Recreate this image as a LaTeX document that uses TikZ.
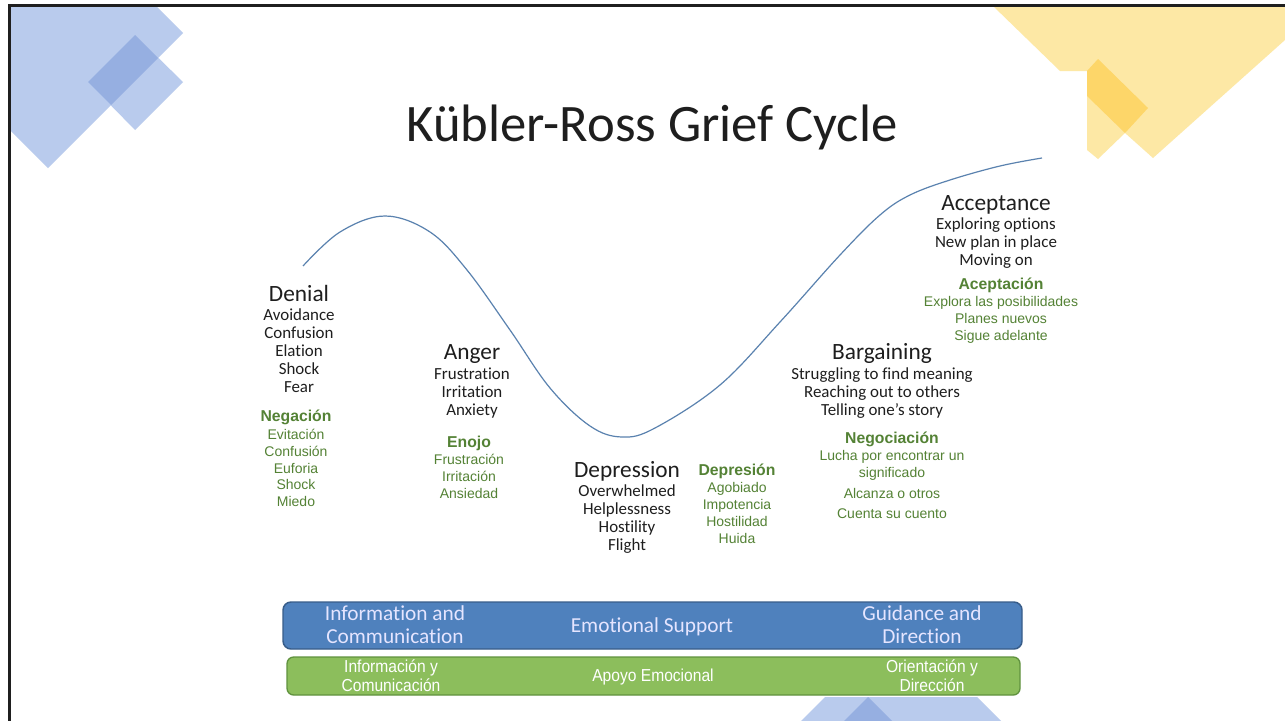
\documentclass[tikz,border=0pt]{standalone}
\usepackage{fontspec}
\setmainfont{Carlito}[Ligatures=NoCommon]
\newfontfamily\arialf{Liberation Sans}
\newfontfamily\arialn{Liberation Sans}[FakeStretch=0.9]
\definecolor{txt}{RGB}{30,30,30}
\definecolor{grn}{RGB}{84,130,53}
\definecolor{bluelt}{RGB}{185,203,237}
\definecolor{bluedk}{RGB}{150,175,225}
\definecolor{yellt}{RGB}{253,232,165}
\definecolor{yeldk}{RGB}{253,214,105}
\definecolor{barblue}{RGB}{79,129,189}
\definecolor{barblueedge}{RGB}{56,93,138}
\definecolor{bargreen}{RGB}{140,190,92}
\definecolor{bargreenedge}{RGB}{96,146,62}
\definecolor{curvec}{RGB}{90,130,175}
\begin{document}
\begin{tikzpicture}[x=0.75pt,y=-0.75pt,
  head/.style={anchor=base,inner sep=0pt,text=txt,font=\fontsize{17.5}{20}\selectfont},
  item/.style={anchor=base,inner sep=0pt,text=txt,font=\fontsize{12.7}{15}\selectfont},
  ghead/.style={anchor=base,inner sep=0pt,text=grn,font=\arialf\bfseries\fontsize{11.8}{14}\selectfont},
  gitem/.style={anchor=base,inner sep=0pt,text=grn,font=\arialf\fontsize{10.5}{12}\selectfont},
  bartext/.style={anchor=base,inner sep=0pt,text=white!90!blue,font=\fontsize{16}{19}\selectfont},
  gbartext/.style={anchor=base,inner sep=0pt,text=white,font=\arialn\fontsize{13}{15}\selectfont},
  bluebar/.style={draw=barblueedge,line width=1.1pt,fill=barblue,rounded corners=6pt,minimum width=554.25pt,minimum height=35.25pt,inner sep=0pt},
  greenbar/.style={draw=bargreenedge,line width=1pt,fill=bargreen,rounded corners=5pt,minimum width=549.75pt,minimum height=28.5pt,inner sep=0pt},
  curve/.style={draw=curvec,line width=0.9pt}
]
\useasboundingbox (0,0) rectangle (1285,721);
\fill[white] (0,0) rectangle (1285,721);
% decorations top-left
\fill[bluelt] (10,6) -- (156,6) -- (183,33) -- (48,168) -- (10,130) -- cycle;
\fill[bluelt] (135,35) -- (183,82) -- (135,130) -- (88,82) -- cycle;
\fill[bluedk] (135,35) -- (158,58) -- (111,105) -- (88,82) -- cycle;
% decorations top-right
\fill[yellt] (993,6) -- (1285,6) -- (1285,40) -- (1153,158) -- (1125,133) -- (1098,159) -- (1087,150) -- (1087,71) -- (1060,71) -- cycle;
\fill[yeldk] (1098,59) -- (1148,108) -- (1125,133) -- (1087,96) -- (1087,71) -- cycle;
% decorations bottom
\fill[bluelt] (825,697) -- (868,697) -- (892,721) -- (801,721) -- cycle;
\fill[bluelt] (868,697) -- (977,697) -- (1001,721) -- (844,721) -- cycle;
\fill[bluedk] (868,697) -- (892,721) -- (844,721) -- cycle;
% frame
\draw[black!88,line width=1.9pt] (9.5,721) -- (9.5,5.5) -- (1285,5.5);
% title
\node[anchor=base,inner sep=0pt,text=txt,font=\fontsize{39.5}{44}\selectfont] (title) at (652,141) {Kübler-Ross Grief Cycle};
% curve
\draw[curve] plot[smooth,tension=0.6] coordinates {(303,266) (340,232) (385,216) (430,232) (467,270) (510,330) (550,388) (590,426) (622,437) (655,428) (720,385) (780,322) (840,255) (880,215) (910,195) (950,180) (1000,166) (1042,158)};
% Denial
\node[head] (denial) at (299,301) {Denial};
\foreach \t [count=\i] in {Avoidance,Confusion,Elation,Shock,Fear}
  \node[item] (den\i) at (299,{320+18*(\i-1)}) {\t};
\node[ghead] (negacion) at (296,421) {Negación};
\foreach \t [count=\i] in {Evitación,Confusión,Euforia,Shock,Miedo}
  \node[gitem] (neg\i) at (296,{439.5+16.75*(\i-1)}) {\t};
% Anger
\node[head] (anger) at (472,359) {Anger};
\foreach \t [count=\i] in {Frustration,Irritation,Anxiety}
  \node[item] (ang\i) at (472,{379+18*(\i-1)}) {\t};
\node[ghead] (enojo) at (469,447) {Enojo};
\foreach \t [count=\i] in {Frustración,Irritación,Ansiedad}
  \node[gitem] (eno\i) at (469,{464.5+17*(\i-1)}) {\t};
% Depression
\node[head] (depression) at (627,477) {Depression};
\foreach \t [count=\i] in {Overwhelmed,Helplessness,Hostility,Flight}
  \node[item] (dep\i) at (627,{496+18.3*(\i-1)}) {\t};
\node[ghead] (depresion) at (737,475) {Depresión};
\foreach \t [count=\i] in {Agobiado,Impotencia,Hostilidad,Huida}
  \node[gitem] (dpr\i) at (737,{492.5+17*(\i-1)}) {\t};
% Bargaining
\node[head] (bargaining) at (882,359) {Bargaining};
\foreach \t [count=\i] in {Struggling to find meaning,Reaching out to others,Telling one’s story}
  \node[item] (bar\i) at (882,{379+18*(\i-1)}) {\t};
\node[ghead] (negociacion) at (892,443) {Negociación};
\node[gitem] (neo1) at (892,460.5) {Lucha por encontrar un};
\node[gitem] (neo2) at (892,477.5) {significado};
\node[gitem] (neo3) at (892,498.5) {Alcanza o otros};
\node[gitem] (neo4) at (892,518.5) {Cuenta su cuento};
% Acceptance
\node[head] (acceptance) at (996,210) {Acceptance};
\foreach \t [count=\i] in {Exploring options,New plan in place,Moving on}
  \node[item] (acc\i) at (996,{229+18*(\i-1)}) {\t};
\node[ghead] (aceptacion) at (1001,289) {Aceptación};
\foreach \t [count=\i] in {Explora las posibilidades,Planes nuevos,Sigue adelante}
  \node[gitem] (ace\i) at (1001,{306.5+17*(\i-1)}) {\t};
% bars
\node[bluebar] (bbar) at (652.5,625.5) {};
\node[bartext] (b1a) at (395,620.5) {Information and};
\node[bartext] (b1b) at (395,643.5) {Communication};
\node[bartext] (b2) at (652,632) {Emotional Support};
\node[bartext] (b3a) at (922,620.5) {Guidance and};
\node[bartext] (b3b) at (922,643.5) {Direction};
\node[greenbar] (gbar) at (653.5,676) {};
\node[gbartext] (g1a) at (391,672) {Información y};
\node[gbartext] (g1b) at (391,691) {Comunicación};
\node[gbartext] (g2) at (653,681) {Apoyo Emocional};
\node[gbartext] (g3a) at (932,672) {Orientación y};
\node[gbartext] (g3b) at (932,691) {Dirección};
\end{tikzpicture}
\end{document}
